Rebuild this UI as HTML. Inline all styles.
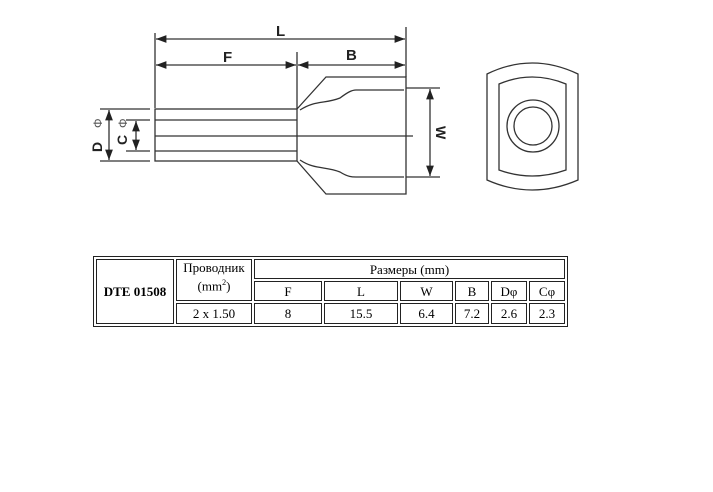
<!DOCTYPE html>
<html><head><style>
body{margin:0;width:713px;height:492px;background:#fff;position:relative;overflow:hidden;font-family:"Liberation Serif",serif;}
svg{position:absolute;left:0;top:0}
table{position:absolute;left:93px;top:256px;border-collapse:separate;border-spacing:2px;border:1px solid #222;font-size:13px;}
td{border:1px solid #222;text-align:center;padding:0;height:18px;line-height:15px;}
</style></head><body>
<svg width="713" height="492" stroke="#333" fill="none" stroke-width="1.3" font-family="Liberation Sans, sans-serif">
<defs><marker id="a" markerWidth="8" markerHeight="6" refX="8" refY="3" orient="auto-start-reverse"><path d="M0,0L8,3L0,6z" fill="#222" stroke="none"/></marker></defs>
<line x1="155" y1="33" x2="155" y2="108"/><line x1="406" y1="27" x2="406" y2="77"/><line x1="297" y1="52" x2="297" y2="109"/>
<line x1="156" y1="39" x2="405" y2="39" marker-start="url(#a)" marker-end="url(#a)"/>
<line x1="156" y1="65" x2="296" y2="65" marker-start="url(#a)" marker-end="url(#a)"/>
<line x1="298" y1="65" x2="405" y2="65" marker-start="url(#a)" marker-end="url(#a)"/>
<text x="276" y="36" font-size="15" font-weight="bold" fill="#222" stroke="none">L</text>
<text x="223" y="62" font-size="15" font-weight="bold" fill="#222" stroke="none">F</text>
<text x="346" y="60" font-size="15" font-weight="bold" fill="#222" stroke="none">B</text>
<rect x="155" y="109" width="142" height="52"/>
<line x1="155" y1="120" x2="297" y2="120"/><line x1="155" y1="151" x2="297" y2="151"/>
<line x1="155" y1="136" x2="413" y2="136"/>
<path d="M297,109L326,77L406,77L406,194L326,194L297,161"/>
<path d="M300,110C315,100 325,104 340,98C348,92 352,90 356,90L404,90"/>
<path d="M300,160C315,170 325,166 340,172C348,177 352,177 356,177L404,177"/>
<line x1="406" y1="88" x2="440" y2="88"/><line x1="406" y1="177" x2="440" y2="177"/>
<line x1="430" y1="89" x2="430" y2="176" marker-start="url(#a)" marker-end="url(#a)"/>
<text x="0" y="0" font-size="14" font-weight="bold" fill="#222" stroke="none" transform="translate(436,126) rotate(90)">W</text>
<line x1="100" y1="109" x2="150" y2="109"/><line x1="100" y1="161" x2="150" y2="161"/>
<line x1="126" y1="120" x2="150" y2="120"/><line x1="126" y1="151" x2="150" y2="151"/>
<line x1="109" y1="110" x2="109" y2="160" marker-start="url(#a)" marker-end="url(#a)"/>
<line x1="136" y1="121" x2="136" y2="150" marker-start="url(#a)" marker-end="url(#a)"/>
<text x="0" y="0" font-size="14" font-weight="bold" fill="#222" stroke="none" transform="translate(102,152) rotate(-90)">D</text>
<text x="0" y="0" font-size="12" fill="#555" stroke="none" transform="translate(102,128) rotate(-90)">Φ</text>
<text x="0" y="0" font-size="14" font-weight="bold" fill="#222" stroke="none" transform="translate(127,145) rotate(-90)">C</text>
<text x="0" y="0" font-size="12" fill="#555" stroke="none" transform="translate(127,128) rotate(-90)">Φ</text>
<path d="M487,74Q532,52 578,74L578,180Q532,200 487,180Z"/>
<path d="M499,84Q532,70 566,84L566,170Q532,182 499,170Z"/>
<circle cx="533" cy="126" r="26"/><circle cx="533" cy="126" r="19"/>
</svg>
<table>
<tr><td rowspan="3" style="width:76px;font-weight:bold">DTE 01508</td><td rowspan="2" style="width:74px;vertical-align:top">Проводник<br>(mm<sup style="font-size:8px">2</sup>)</td><td colspan="6">Размеры (mm)</td></tr>
<tr><td style="width:66px">F</td><td style="width:72px">L</td><td style="width:51px">W</td><td style="width:32px">B</td><td style="width:34px">Dφ</td><td style="width:34px">Cφ</td></tr>
<tr><td style="height:19px">2 x 1.50</td><td>8</td><td>15.5</td><td>6.4</td><td>7.2</td><td>2.6</td><td>2.3</td></tr>
</table>
</body></html>
